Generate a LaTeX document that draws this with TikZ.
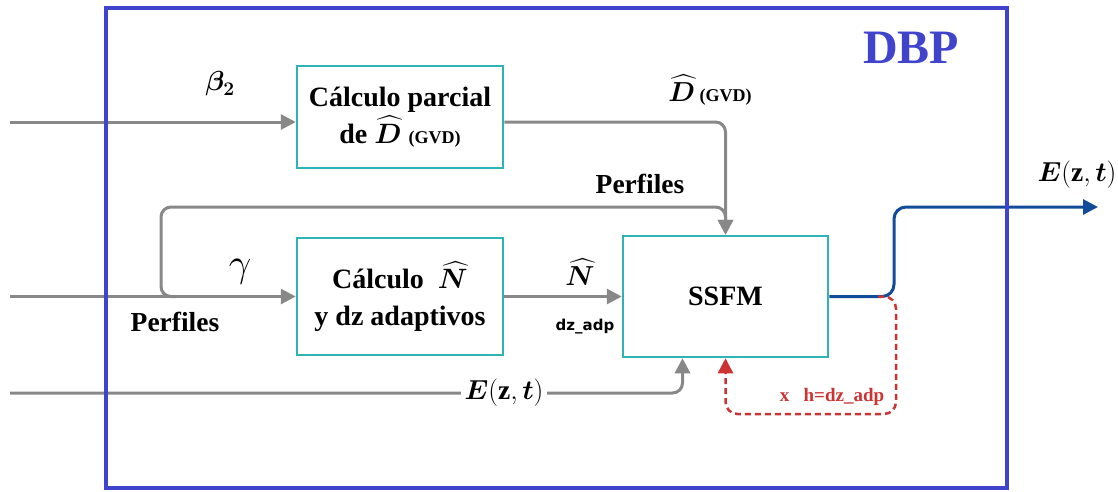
\RequirePackage{fix-cm}
\documentclass[tikz,border=0pt]{standalone}
\usepackage{amsmath,bm}
\usepackage{fontspec}
\setmainfont{Liberation Serif}
\newfontfamily\dejavu{DejaVu Sans}
\usetikzlibrary{arrows.meta,calc}
\definecolor{frameblue}{HTML}{4044CC}
\definecolor{tealb}{HTML}{2EB4B4}
\definecolor{lgray}{HTML}{888888}
\definecolor{outblue}{HTML}{124B9A}
\definecolor{dred}{HTML}{CC3333}
\begin{document}
\begin{tikzpicture}[x=1pt,y=-1pt,
  blk/.style={draw=tealb, line width=2.5pt, inner sep=0pt, align=center,
    font=\fontsize{28}{37}\selectfont\bfseries},
  conn/.style={draw=lgray, line width=3pt, rounded corners=10pt,
    -{Triangle[length=15pt,width=15pt]}},
  lbl/.style={inner sep=0pt, font=\fontsize{27.5}{30}\selectfont\bfseries},
]
\useasboundingbox (0,0) rectangle (1118,491);

% blocks
\node[blk, minimum width=206pt, minimum height=102pt] (b1) at (400,117)
  {C\'alculo parcial\\de $\bm{\widehat{D}}$ {\fontsize{18}{20}\selectfont (GVD)}};
\node[blk, minimum width=206pt, minimum height=117pt] (b2) at (400,296.5)
  {C\'alculo\ \ $\bm{\widehat{N}}$\\y dz adaptivos};
\node[blk, minimum width=205pt, minimum height=121pt] (ssfm) at (725.5,296.5)
  {SSFM};

% free ends
\coordinate (in1) at (10,122);
\coordinate (in2) at (10,296.5);
\coordinate (in3) at (10,393);
\coordinate (tap) at (176,296.5);
\coordinate (loopL) at (161,207);
\coordinate (bend) at (894,207);
\coordinate (out) at (1098,207);
\coordinate (rstart) at (878,296.5);
\coordinate (rturn) at (896,414);

% gray connectors
\draw[conn] (in1) -- (in1 -| b1.west);
\draw[conn] (b1.east |- in1) -| (ssfm.north);
\draw[conn] (tap) -| (loopL) -| (ssfm.north);
\draw[conn] (in2) -- (b2.west);
\draw[conn] (b2.east) -- (ssfm.west);
\draw[conn] (in3) -| ([xshift=-43pt]ssfm.south);

% output
\draw[outblue, line width=3pt, rounded corners=12pt,
  -{Triangle[length=15pt,width=15pt]}] (ssfm.east) -| (bend) -- (out);

% red feedback
\draw[dred, line width=2.5pt, dash pattern=on 6pt off 4pt, rounded corners=12pt,
  -{Triangle[length=15pt,width=15pt]}] (rstart) -| (rturn) -| (ssfm.south);

% labels
\node[lbl] (lbeta) at (220,84) {$\bm{\beta_2}$};
\node[inner sep=0pt, font=\fontsize{40}{44}\selectfont] (lgam) at (240,272) {$\gamma$};
\node[lbl] (lperf1) at (175,322) {Perfiles};
\node[lbl] (lperf2) at (640,184) {Perfiles};
\node[lbl] (ldhat) at (710,90) {$\bm{\widehat{D}}$\,{\fontsize{18}{20}\selectfont (GVD)}};
\node[lbl] (lnhat) at (580,272) {$\bm{\widehat{N}}$};
\node[inner sep=0pt, font=\fontsize{15}{18}\selectfont\dejavu\bfseries] (ldz) at (585,327) {dz\_adp};
\node[lbl, fill=white, inner sep=4pt] (lez) at (504,393) {$\bm{E}(\mathbf{z},\bm{t})$};
\node[lbl] (lezout) at (1077,175) {$\bm{E}(\mathbf{z},\bm{t})$};
\node[inner sep=0pt, text=dred, font=\fontsize{19}{22}\selectfont\bfseries] (lh) at (832,397) {x\ \ \ h=dz\_adp};
\node[inner sep=0pt, text=frameblue, font=\fontsize{48}{52}\selectfont\bfseries] (ldbp) at (911,48) {DBP};

% frame
\draw[frameblue, line width=4.5pt] (106,8) rectangle (1007,488);
\end{tikzpicture}
\end{document}
